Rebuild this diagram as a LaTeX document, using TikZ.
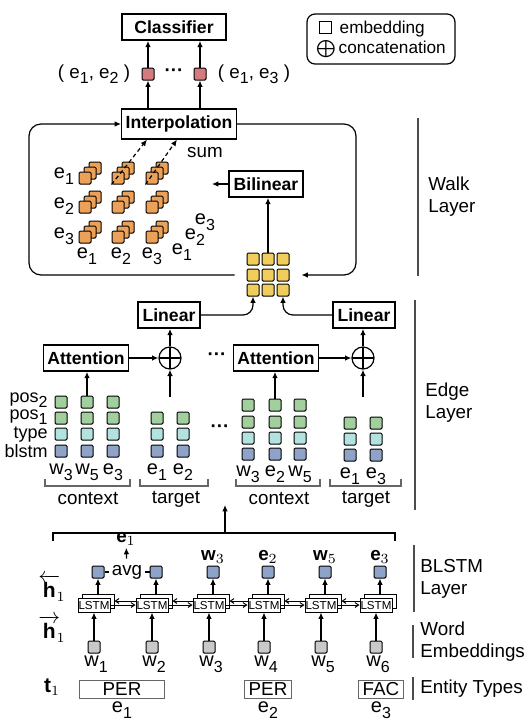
\documentclass[tikz,border=0pt]{standalone}
\usepackage{fontspec}
\setmainfont{Liberation Sans}
\usepackage{amsmath,amssymb}
\usepackage{xcolor}
\usepackage{tikz}
\usetikzlibrary{arrows.meta}

\definecolor{pairred}{HTML}{D47B80}
\definecolor{cubeorange}{HTML}{EBA157}
\definecolor{gridyellow}{HTML}{F1CD5E}
\definecolor{posgreen}{HTML}{A2CF9E}
\definecolor{typecyan}{HTML}{B2E3DF}
\definecolor{blstmblue}{HTML}{8FA3C9}
\definecolor{wordgray}{HTML}{C9C9C9}

\newcommand{\idx}[2]{#1\raisebox{-0.55ex}{\fontsize{8}{8}\selectfont #2}}
\newcommand{\emptysq}{{\setlength{\fboxsep}{0pt}\setlength{\fboxrule}{0.5pt}\fbox{\rule{0pt}{5.5pt}\rule{5.5pt}{0pt}}}}

\tikzset{
  box/.style={draw, line width=0.7pt, font=\fontsize{8.8}{10}\selectfont\bfseries, minimum height=13pt, inner xsep=2pt},
  emb/.style={draw, line width=0.5pt, minimum size=6pt, inner sep=0pt, rounded corners=0.6pt},
  arr/.style={-{Latex[length=3.2pt,width=2.8pt]}, line width=0.6pt},
  harr/.style={-{Straight Barb[length=1.8pt,width=2.4pt]}, line width=0.5pt},
  cat/.style={circle, draw, line width=0.6pt, minimum size=11pt, inner sep=0pt,
    path picture={\draw[line width=0.6pt] (path picture bounding box.north) -- (path picture bounding box.south)
      (path picture bounding box.west) -- (path picture bounding box.east);}},
  lstm/.style={draw, fill=white, line width=0.5pt, minimum width=16pt, minimum height=7pt, inner sep=0pt, font=\fontsize{5.8}{6}\selectfont},
  ent/.style={draw=black!60, line width=0.5pt, minimum height=9pt, inner sep=0.5pt},
  bar/.style={line width=0.7pt, black!70},
  bracket/.style={line width=0.6pt, black!60},
  side/.style={anchor=west, align=left, inner sep=0pt},
  sub/.style={font=\fontsize{10}{12}\selectfont, inner sep=1pt},
  rowlab/.style={anchor=east, inner sep=0pt, font=\fontsize{9}{10}\selectfont},
  hlab/.style={font=\fontsize{10.5}{12}\selectfont, inner sep=0pt},
}

\begin{document}
\begin{tikzpicture}[x=0.5pt, y=-0.5pt, font=\fontsize{9.4}{11}\selectfont]
\useasboundingbox (0,0) rectangle (526,725);

% top %
\node[box, minimum width=52pt] (cls) at (174,27) {Classifier};
\node[draw, rounded corners=4pt, line width=0.6pt, minimum width=74pt, minimum height=25pt,
  align=left, font=\fontsize{8.6}{10}\selectfont] (legend) at (381,39)
  {\,\emptysq\;\,embedding\\$\bigoplus$\,concatenation};
\node[emb, fill=pairred] (p12) at (148,74) {};
\node[emb, fill=pairred] (p13) at (200,74) {};
\node (dots1) at (174,73) {\bfseries ···};
\node (l12) at (94,74) {( \idx{e}{1}, \idx{e}{2} )};
\node (l13) at (254,74) {( \idx{e}{1}, \idx{e}{3} )};
\node[box, minimum width=56pt] (interp) at (179,124) {Interpolation};

\draw[arr] (p12) -- (p12 |- cls.south);
\draw[arr] (p13) -- (p13 |- cls.south);
\draw[arr] (interp.north -| p12) -- (p12);
\draw[arr] (interp.north -| p13) -- (p13);

% walk layer %
\foreach \r/\yy in {1/178,2/207,3/237}{
  \foreach \c/\xx in {1/85,2/118,3/152}{
    \node[emb, fill=cubeorange] (cube-\r-\c-back) at (\xx+10,\yy-10) {};
    \node[emb, fill=cubeorange] (cube-\r-\c-mid) at (\xx+5,\yy-5) {};
    \node[emb, fill=cubeorange] (cube-\r-\c-front) at (\xx,\yy) {};
  }
}
\foreach \r/\yy in {1/176,2/206,3/236}
  \node[sub] (row\r) at (64,\yy) {\idx{e}{\r}};
\foreach \c/\xx in {1/87,2/121,3/152}
  \node[sub] (col\c) at (\xx,256) {\idx{e}{\c}};
\node[sub] (diag3) at (205,222) {\idx{e}{3}};
\node[sub] (diag2) at (195,237) {\idx{e}{2}};
\node[sub] (diag1) at (182,252) {\idx{e}{1}};

\draw[arr, dash pattern=on 2pt off 1.5pt] (cube-1-2-front.south west) -- ([xshift=-16pt]interp.south);
\draw[arr, dash pattern=on 2pt off 1.5pt] (cube-1-3-front.south west) -- ([xshift=-1pt]interp.south);
\node (sum) at (205,153) {sum};

\node[box, minimum width=37pt] (bil) at (266,184) {Bilinear};
\coordinate (bilout) at (212,184);
\draw[arr] (bil) -- (bilout);

\foreach \r/\yy in {1/259,2/275,3/290}
  \foreach \c/\xx in {1/253,2/268,3/283}
    \node[emb, fill=gridyellow] (g\r\c) at (\xx,\yy) {};
\draw[arr] (g12.north) -- (g12.north |- bil.south);

\draw[arr, rounded corners=6pt] ([xshift=-6pt]g21.west) -| (29,124) -- (interp.west);
\draw[arr, rounded corners=6pt] (interp.east) -| (356,275) -- ([xshift=6pt]g23.east);

\draw[bar] (418,118) -- (418,276);
\node[side] (walk) at (428,197) {Walk\\Layer};

% edge layer %
\node[box, minimum width=31pt] (lin1) at (169,315) {Linear};
\node[box, minimum width=31pt] (lin2) at (364,315) {Linear};
\draw[arr, rounded corners=5pt] (lin1.east) -| (g31.south);
\draw[arr, rounded corners=5pt] (lin2.west) -| (g33.south);

\node[box, minimum width=42.5pt] (att1) at (86,358) {Attention};
\node[cat] (cat1) at (170,358) {};
\node (dots2) at (217,357) {\bfseries ···};
\node[box, minimum width=41pt] (att2) at (276,358) {Attention};
\node[cat] (cat2) at (363,358) {};
\draw[arr] (att1) -- (cat1);
\draw[arr] (att2) -- (cat2);
\draw[arr] (cat1) -- (cat1 |- lin1.south);
\draw[arr] (cat2) -- (cat2 |- lin2.south);

% context / target columns %
\foreach \r/\yy/\col in {4/402/posgreen,3/418/posgreen,2/434/typecyan,1/451/blstmblue}
  \foreach \c/\xx in {1/61,2/87,3/113}
    \node[emb, fill=\col] (ca-\r-\c) at (\xx,\yy) {};
\node[rowlab] (lpos2) at (48,400) {\idx{pos}{2}};
\node[rowlab] (lpos1) at (48,417) {\idx{pos}{1}};
\node[rowlab] (ltype) at (48,435) {type};
\node[rowlab] (lblstm) at (48,451) {blstm};
\foreach \c/\xx/\l/\n in {1/61/w/3,2/87/w/5,3/113/e/3}
  \node[sub] (cal\c) at (\xx,472) {\idx{\l}{\n}};
\draw[bracket] (45,479) |- (130,486) -- (130,479);
\node (ctx1) at (88,499) {context};
\draw[arr] (ca-4-2) -- (ca-4-2 |- att1.south);

\foreach \r/\yy/\col in {3/418/posgreen,2/434/typecyan,1/451/blstmblue}
  \foreach \c/\xx in {1/157,2/183}
    \node[emb, fill=\col] (ta-\r-\c) at (\xx,\yy) {};
\foreach \c/\xx/\n in {1/157/1,2/183/2}
  \node[sub] (tal\c) at (\xx,472) {\idx{e}{\n}};
\draw[bracket] (140,479) |- (208,486) -- (208,479);
\node (tgt1) at (176,499) {target};
\coordinate (ta-in) at (170,397);
\draw[arr] (ta-in) -- (cat1);

\node (dots3) at (220,429) {\bfseries ···};

\foreach \r/\yy/\col in {4/405/posgreen,3/422/posgreen,2/438/typecyan,1/454/blstmblue}
  \foreach \c/\xx in {1/248,2/275,3/300}
    \node[emb, fill=\col] (cb-\r-\c) at (\xx,\yy) {};
\foreach \c/\xx/\l/\n in {1/248/w/3,2/275/e/2,3/300/w/5}
  \node[sub] (cbl\c) at (\xx,474) {\idx{\l}{\n}};
\draw[bracket] (236,479) |- (320,486) -- (320,479);
\node (ctx2) at (279,499) {context};
\draw[arr] (cb-4-2) -- (cb-4-2 |- att2.south);

\foreach \r/\yy/\col in {3/423/posgreen,2/439/typecyan,1/455/blstmblue}
  \foreach \c/\xx in {1/350,2/376}
    \node[emb, fill=\col] (tb-\r-\c) at (\xx,\yy) {};
\foreach \c/\xx/\n in {1/350/1,2/376/3}
  \node[sub] (tbl\c) at (\xx,476) {\idx{e}{\n}};
\draw[bracket] (330,479) |- (401,486) -- (401,479);
\node (tgt2) at (366,499) {target};
\coordinate (tb-in) at (363,397);
\draw[arr] (tb-in) -- (cat2);

\draw[bar] (415,300) -- (415,510);
\node[side] (edge) at (425,403) {Edge\\Layer};

% blstm layer %
\draw[line width=0.6pt] (53,541) |- (395,533) -- (395,541);
\coordinate (bl-top) at (225,533);
\coordinate (edge-in) at (225,505);
\draw[arr] (bl-top) -- (edge-in);

\foreach \i/\xx in {1/94,2/152,3/209,4/264,5/321,6/376} {
  \node[emb, fill=wordgray] (w\i) at (\xx,647) {};
  \node[lstm] (lb\i) at (\xx+4,601) {};
  \node[lstm] (lf\i) at (\xx,605) {LSTM};
  \node[emb, fill=blstmblue] (h\i) at (\xx+4,572) {};
  \node[sub] (wl\i) at (\xx+2,664) {\idx{w}{\i}};
  \draw[arr] (w\i) -- (lf\i);
  \draw[arr] (lb\i) -- (h\i);
}
\foreach \i [evaluate=\i as \j using int(\i+1)] in {1,...,5} {
  \draw[harr] (lf\i.east) -- (lf\j.west);
  \draw[harr] (lf\j.west |- lb\j) -- (lb\i.east);
}

\node[inner sep=1pt] (avg) at (127,572) {avg};
\draw[line width=0.6pt] (h1) -- (avg);
\draw[line width=0.6pt] (avg) -- (h2);
\node[inner sep=1pt] (e1top) at (126,539) {$\mathbf{e}_1$};
\draw[arr, shorten <=2pt] (avg) -- (e1top);
\node (o3) at (213,557) {$\mathbf{w}_3$};
\node (o4) at (268,557) {$\mathbf{e}_2$};
\node (o5) at (325,557) {$\mathbf{w}_5$};
\node (o6) at (380,557) {$\mathbf{e}_3$};

\node[hlab] (hb) at (52,588) {$\overleftarrow{\mathbf{h}}\!_1$};
\node[hlab] (hf) at (52,629) {$\overrightarrow{\mathbf{h}}\!_1$};
\node[hlab] (t1) at (52,687) {$\mathbf{t}_1$};

% entity types %
\node[ent, minimum width=42.5pt] (per1) at (122,689) {PER};
\node[ent, minimum width=23.5pt] (per2) at (268,689) {PER};
\node[ent, minimum width=22.5pt] (fac) at (381,689) {FAC};
\node[sub] (te1) at (122,710) {\idx{e}{1}};
\node[sub] (te2) at (268,710) {\idx{e}{2}};
\node[sub] (te3) at (381,710) {\idx{e}{3}};

\draw[bar] (414,545) -- (414,612);
\node[side] (blstmlab) at (420,579) {BLSTM\\Layer};
\draw[bar] (413,625) -- (413,658);
\node[side] (wordlab) at (420,642) {Word\\Embeddings};
\draw[bar] (413,677) -- (413,700);
\node[side] (entlab) at (420,689) {Entity Types};
\end{tikzpicture}
\end{document}
